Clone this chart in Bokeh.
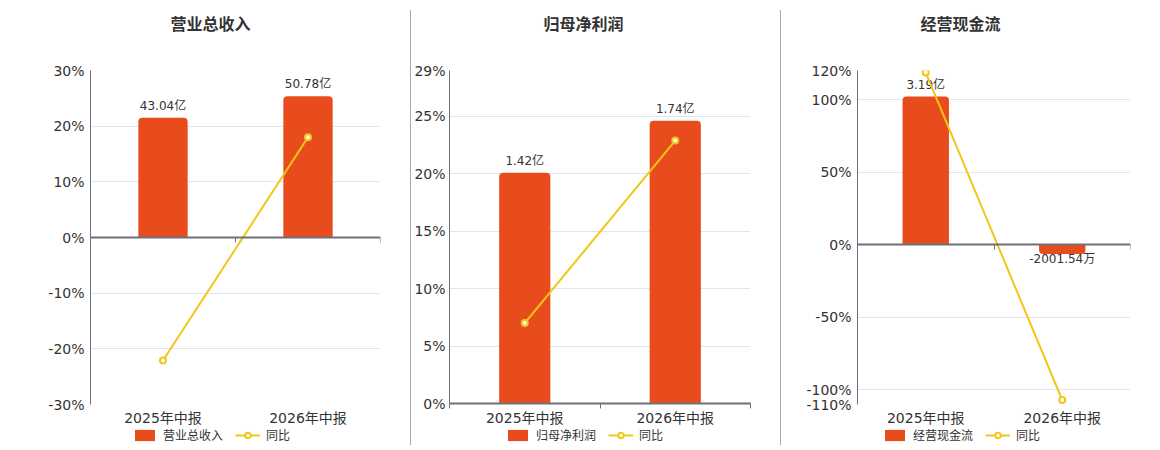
import math

from bokeh.core.properties import value
from bokeh.embed import file_html
from bokeh.layouts import column, row
from bokeh.models import (BooleanFilter, CDSView, ColumnDataSource, Div, FixedTicker,
                          Label, Legend, LegendItem, LinearAxis, Range1d)
from bokeh.plotting import figure
from bokeh.resources import INLINE

# data
periods = ["2025年中报", "2026年中报"]

revenue = [43.04, 50.78]            # 亿
revenue_yoy = [-22.1, 18.0]         # %
revenue_labels = ["43.04亿", "50.78亿"]

profit = [1.42, 1.74]               # 亿
profit_yoy = [7.0, 22.9]
profit_labels = ["1.42亿", "1.74亿"]

cashflow = [3.19, -0.200154]        # 亿
cashflow_yoy = [118.6, -106.9]
cashflow_labels = ["3.19亿", "-2001.54万"]

BAR = "#E84C1C"
LINE = "#F2C618"
TXT = "#333333"
AXIS = "#6E7079"
GRID = "#E0E6F1"
CJK = "DejaVu Sans, Noto Sans CJK SC"


def strip(width, height):
    # strips in a column share the chart's frame edges
    q = figure(width=width, height=height, x_range=Range1d(0, 1), y_range=Range1d(0, 1),
               output_backend="svg", toolbar_location=None,
               x_axis_location=None, y_axis_location=None,
               min_border_top=0, min_border_bottom=0)
    q.outline_line_color = None
    q.grid.visible = False
    return q


def title_strip(title, width, cx):
    q = strip(width, 40)
    q.add_layout(Label(x=cx, y=18, x_units="screen", y_units="screen", text=title,
                       text_font="Noto Sans CJK SC", text_font_size="16px",
                       text_font_style="bold", text_color=TXT,
                       text_align="center", text_baseline="middle"))
    return q


def legend_strip(title, width, lx):
    q = strip(width, 18)
    b = q.vbar(x=[math.nan], top=[math.nan], width=0.1, fill_color=BAR, line_color=None)
    ln = q.line(x=[math.nan], y=[math.nan], line_color=LINE, line_width=2)
    mk = q.scatter(x=[math.nan], y=[math.nan], size=10, fill_color="white",
                   line_color=LINE, line_width=2)
    legend = Legend(items=[LegendItem(label=title, renderers=[b]),
                           LegendItem(label="同比", renderers=[ln, mk])],
                    orientation="horizontal", location=(lx, 3),
                    label_text_font=CJK, label_text_font_size="12px",
                    label_text_color=TXT, label_height=14,
                    glyph_width=25, glyph_height=14,
                    label_standoff=6, spacing=12, padding=0, margin=0,
                    border_line_color=None, background_fill_alpha=0)
    q.add_layout(legend)
    return q


def panel(names, bars, yoy, labels, pct_lo, pct_hi, pct_ticks,
          bar_lo, bar_hi, width, left, right, zero_axis, ystand=6):
    p = figure(width=width, height=388, x_range=Range1d(0, len(names)),
               y_range=Range1d(pct_lo, pct_hi), output_backend="svg",
               toolbar_location=None, min_border_left=left, min_border_right=right,
               min_border_top=30, min_border_bottom=23)
    p.outline_line_color = None

    p.extra_y_ranges = {"bar": Range1d(bar_lo, bar_hi)}

    xs = [i + 0.5 for i in range(len(names))]
    src = ColumnDataSource(dict(x=xs, bar=bars, yoy=yoy, lbl=labels))

    # axes
    p.xgrid.visible = False
    p.ygrid.ticker = FixedTicker(ticks=pct_ticks)
    p.ygrid.grid_line_color = GRID
    p.yaxis.ticker = FixedTicker(ticks=pct_ticks)
    p.yaxis.major_label_overrides = {t: f"{t}%" for t in pct_ticks}
    p.yaxis.major_tick_line_color = None
    p.yaxis.major_tick_out = 0
    p.yaxis.major_tick_in = 0
    p.yaxis.minor_tick_line_color = None
    p.yaxis.minor_tick_out = 0
    p.yaxis.axis_line_color = AXIS
    p.yaxis.major_label_text_font = CJK
    p.yaxis.major_label_text_font_size = "14px"
    p.yaxis.major_label_text_color = TXT
    p.yaxis.major_label_standoff = ystand

    xa = p.xaxis[0]
    xa.ticker = FixedTicker(ticks=xs, minor_ticks=list(range(len(names) + 1)))
    xa.major_label_overrides = {x: n for x, n in zip(xs, names)}
    xa.major_tick_line_color = None
    xa.major_tick_out = 0
    xa.major_tick_in = 0
    xa.major_label_text_font = CJK
    xa.major_label_text_font_size = "14px"
    xa.major_label_text_color = TXT
    if zero_axis:
        xa.major_label_standoff = 5
        xa.axis_line_color = None
        xa.minor_tick_line_color = None
        xa.minor_tick_out = 0
        za = LinearAxis(fixed_location=0,
                        ticker=FixedTicker(ticks=[], minor_ticks=list(range(len(names) + 1))),
                        major_label_text_font_size="0px", major_label_standoff=0,
                        axis_line_color=AXIS, axis_line_width=2,
                        minor_tick_line_color=AXIS, minor_tick_in=0, minor_tick_out=5,
                        major_tick_line_color=None)
        p.add_layout(za, "below")
    else:
        xa.major_label_standoff = 1
        xa.axis_line_color = AXIS
        xa.axis_line_width = 2
        xa.minor_tick_line_color = AXIS
        xa.minor_tick_in = 0
        xa.minor_tick_out = 5

    # bars
    pos_view = CDSView(filter=BooleanFilter([v >= 0 for v in bars]))
    neg_view = CDSView(filter=BooleanFilter([v < 0 for v in bars]))
    bw = 0.34
    p.vbar(x="x", top="bar", bottom=0, width=bw, source=src, view=pos_view,
           y_range_name="bar", fill_color=BAR, line_color=None,
           border_radius=(4, 4, 0, 0))
    if any(v < 0 for v in bars):
        p.vbar(x="x", top="bar", bottom=0, width=bw, source=src, view=neg_view,
               y_range_name="bar", fill_color=BAR, line_color=None,
               border_radius=(0, 0, 4, 4))

    p.text(x="x", y="bar", text="lbl", source=src, view=pos_view, y_range_name="bar",
           text_font=value(CJK), text_font_size="12px", text_color=TXT,
           text_align="center", text_baseline="bottom", y_offset=-5)
    p.text(x="x", y="bar", text="lbl", source=src, view=neg_view, y_range_name="bar",
           text_font=value(CJK), text_font_size="12px", text_color=TXT,
           text_align="center", text_baseline="top", y_offset=-2)

    # yoy line
    p.line(x="x", y="yoy", source=src, line_color=LINE, line_width=2)
    p.scatter(x="x", y="yoy", source=src, size=6, fill_color="white",
              line_color=LINE, line_width=2)
    return p


p1 = panel(periods, revenue, revenue_yoy, revenue_labels,
           -30, 30, [-30, -20, -10, 0, 10, 20, 30], -60, 60, 410, 90, 30, True)
p2 = panel(periods, profit, profit_yoy, profit_labels,
           0, 29, [0, 5, 10, 15, 20, 25, 29], 0, 2.05, 369, 36, 30, False, ystand=4)
p3 = panel(periods, cashflow, cashflow_yoy, cashflow_labels,
           -110, 120, [-110, -100, -50, 0, 50, 100, 120], -3.44, 3.75, 369, 76, 20, True)

# title / legend positions are measured from each chart's frame left edge
t1 = title_strip("营业总收入", 410, 120)
t2 = title_strip("归母净利润", 369, 134)
t3 = title_strip("经营现金流", 369, 103)

l1 = legend_strip("营业总收入", 410, 42)
l2 = legend_strip("归母净利润", 369, 56)
l3 = legend_strip("经营现金流", 369, 25)


def sep():
    return Div(width=1, height=435, margin=(10, 0, 0, 0),
               styles={"background-color": "#AAAAAA"})


p = row(column(t1, p1, l1, spacing=0), sep(), column(t2, p2, l2, spacing=0), sep(),
        column(t3, p3, l3, spacing=0), spacing=0)

open("out.html", "w").write(file_html(p, INLINE))
